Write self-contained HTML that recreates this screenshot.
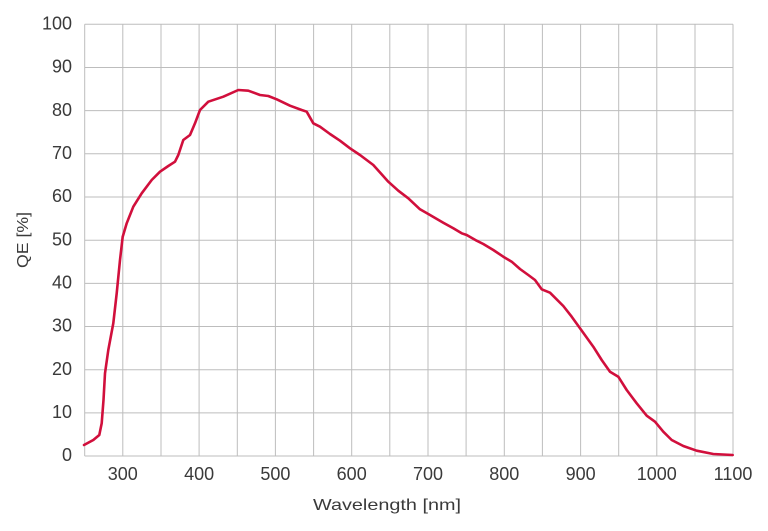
<!DOCTYPE html>
<html>
<head>
<meta charset="utf-8">
<style>
html,body{margin:0;padding:0;background:#fff;}
svg{display:block;}
text{font-family:"Liberation Sans",sans-serif;fill:#3a3a3a;}
</style>
</head>
<body>
<svg width="768" height="531" viewBox="0 0 768 531" xmlns="http://www.w3.org/2000/svg">
<rect width="768" height="531" fill="#fff"/>
<g stroke="#bdbdbd" stroke-width="1" fill="none">
<line x1="84.7" y1="24.3" x2="733" y2="24.3"/>
<line x1="84.7" y1="67.5" x2="733" y2="67.5"/>
<line x1="84.7" y1="110.6" x2="733" y2="110.6"/>
<line x1="84.7" y1="153.8" x2="733" y2="153.8"/>
<line x1="84.7" y1="197" x2="733" y2="197"/>
<line x1="84.7" y1="240.2" x2="733" y2="240.2"/>
<line x1="84.7" y1="283.4" x2="733" y2="283.4"/>
<line x1="84.7" y1="326.5" x2="733" y2="326.5"/>
<line x1="84.7" y1="369.7" x2="733" y2="369.7"/>
<line x1="84.7" y1="412.9" x2="733" y2="412.9"/>
<line x1="84.7" y1="456" x2="733" y2="456"/>
<line x1="84.7" y1="24.3" x2="84.7" y2="456"/>
<line x1="122.8" y1="24.3" x2="122.8" y2="456"/>
<line x1="161" y1="24.3" x2="161" y2="456"/>
<line x1="199.1" y1="24.3" x2="199.1" y2="456"/>
<line x1="237.3" y1="24.3" x2="237.3" y2="456"/>
<line x1="275.4" y1="24.3" x2="275.4" y2="456"/>
<line x1="313.6" y1="24.3" x2="313.6" y2="456"/>
<line x1="351.7" y1="24.3" x2="351.7" y2="456"/>
<line x1="389.8" y1="24.3" x2="389.8" y2="456"/>
<line x1="428" y1="24.3" x2="428" y2="456"/>
<line x1="466.1" y1="24.3" x2="466.1" y2="456"/>
<line x1="504.3" y1="24.3" x2="504.3" y2="456"/>
<line x1="542.4" y1="24.3" x2="542.4" y2="456"/>
<line x1="580.6" y1="24.3" x2="580.6" y2="456"/>
<line x1="618.7" y1="24.3" x2="618.7" y2="456"/>
<line x1="656.8" y1="24.3" x2="656.8" y2="456"/>
<line x1="695" y1="24.3" x2="695" y2="456"/>
<line x1="733" y1="24.3" x2="733" y2="456"/>
</g>
<g font-size="18" text-anchor="end">
<text x="72" y="29.5">100</text>
<text x="72" y="72.7">90</text>
<text x="72" y="115.8">80</text>
<text x="72" y="159">70</text>
<text x="72" y="202.2">60</text>
<text x="72" y="245.4">50</text>
<text x="72" y="288.6">40</text>
<text x="72" y="331.7">30</text>
<text x="72" y="374.9">20</text>
<text x="72" y="418.1">10</text>
<text x="72" y="461.2">0</text>
</g>
<g font-size="18" text-anchor="middle">
<text x="122.8" y="480">300</text>
<text x="199.1" y="480">400</text>
<text x="275.4" y="480">500</text>
<text x="351.7" y="480">600</text>
<text x="428" y="480">700</text>
<text x="504.3" y="480">800</text>
<text x="580.6" y="480">900</text>
<text x="656.8" y="480">1000</text>
<text x="733" y="480">1100</text>
</g>
<text x="387" y="510" font-size="16" text-anchor="middle" textLength="148" lengthAdjust="spacingAndGlyphs">Wavelength [nm]</text>
<text transform="translate(28,240) rotate(-90)" font-size="16" text-anchor="middle" textLength="56" lengthAdjust="spacingAndGlyphs">QE [%]</text>
<polyline fill="none" stroke="#d10f3c" stroke-width="2.6" stroke-linejoin="round" stroke-linecap="round" points="84,445 93.3,440 99.3,435 101.7,423.3 103.5,400 105,373.3 108.3,350 113.3,323.3 116.7,293.3 120,260 122.7,236.7 126.7,223.3 133.3,206.7 141.7,193.3 151.7,180 160,171.7 168.3,166 175,161.7 178.3,155 183.3,140 190,135 195,123.3 200,110 208.3,101.7 223.3,96.7 238.3,90 248.3,90.7 260,95 268.3,96 276.7,99.3 290,105.7 301.7,110 306.7,111.7 313.3,123.3 320,126.7 330,134 340,140.7 350,148.3 360,155 373.3,165 388.3,181.7 398.3,190.7 408.3,198.3 420,209.3 428.3,214 443.3,222.7 453.3,228.3 461.7,233.3 466.7,235 476.7,240.7 483.3,244 493.3,250 503.3,256.7 511.7,261.7 520,269 528.3,275 535,280 541.7,289.3 550,292.7 563.3,306 571.7,316.7 580,328.3 593.3,346.7 601.7,360 610,371.7 618.3,376.7 626.7,390 636.7,403.3 646.7,415.7 655,421.7 663.3,431.7 671.7,440 683.3,446 696.7,450.7 713.3,454 732.7,455"/>
</svg>
</body>
</html>
